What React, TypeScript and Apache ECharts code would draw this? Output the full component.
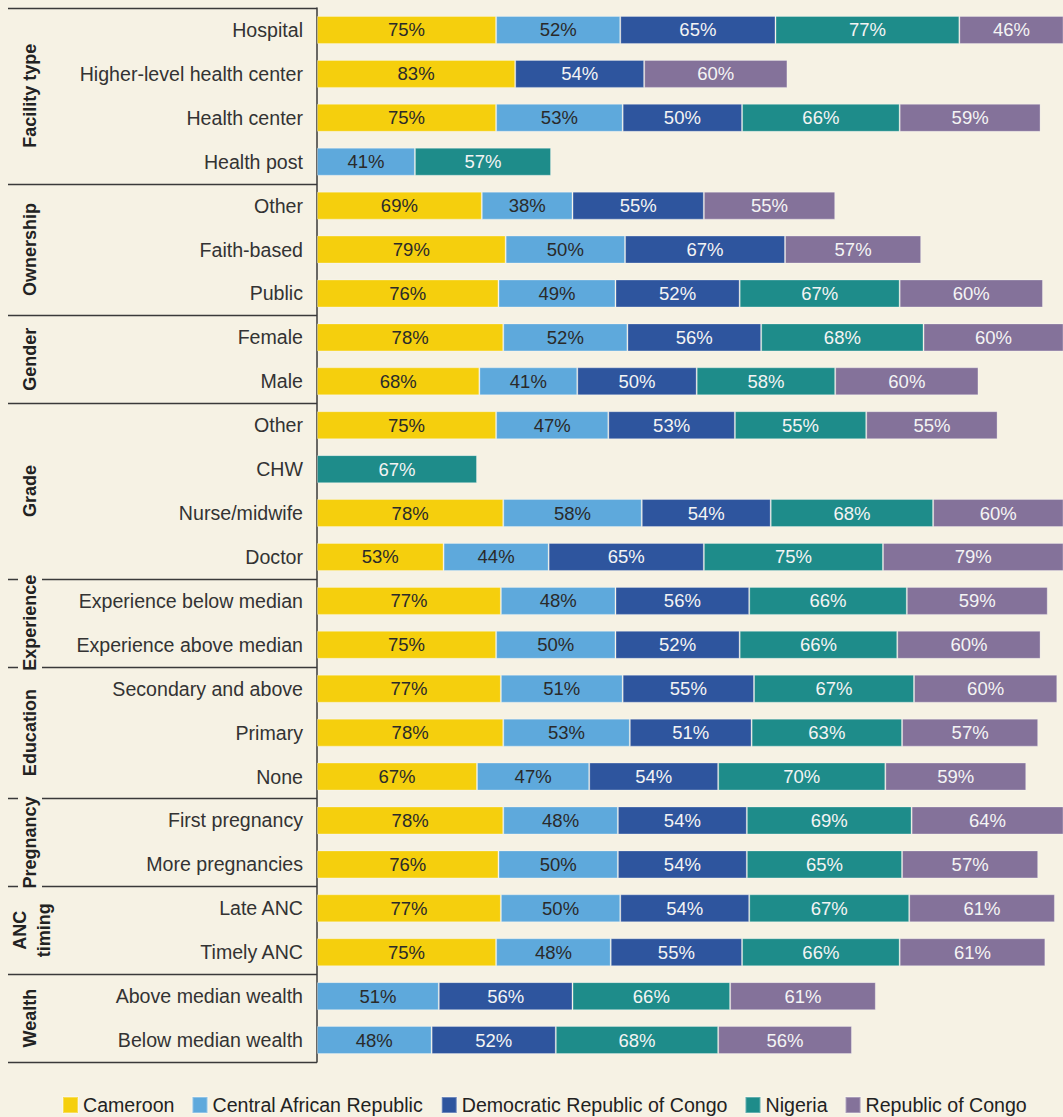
import React, { useEffect, useRef } from "react";
import * as echarts from "echarts";

const categories = [
  "Hospital",
  "Higher-level health center",
  "Health center",
  "Health post",
  "Other",
  "Faith-based",
  "Public",
  "Female",
  "Male",
  "Other",
  "CHW",
  "Nurse/midwife",
  "Doctor",
  "Experience below median",
  "Experience above median",
  "Secondary and above",
  "Primary",
  "None",
  "First pregnancy",
  "More pregnancies",
  "Late ANC",
  "Timely ANC",
  "Above median wealth",
  "Below median wealth",
];

const groupNames = ["Facility type", "Ownership", "Gender", "Grade", "Experience", "Education", "Pregnancy", "ANC\ntiming", "Wealth"];
const groupSizes = [4, 3, 2, 4, 2, 3, 2, 2, 2];

const seriesNames = ["Cameroon", "Central African Republic", "Democratic Republic of Congo", "Nigeria", "Republic of Congo"];

const cameroon = [75, 83, 75, null, 69, 79, 76, 78, 68, 75, null, 78, 53, 77, 75, 77, 78, 67, 78, 76, 77, 75, null, null];
const car = [52, null, 53, 41, 38, 50, 49, 52, 41, 47, null, 58, 44, 48, 50, 51, 53, 47, 48, 50, 50, 48, 51, 48];
const drc = [65, 54, 50, null, 55, 67, 52, 56, 50, 53, null, 54, 65, 56, 52, 55, 51, 54, 54, 54, 54, 55, 56, 52];
const nigeria = [77, null, 66, 57, null, null, 67, 68, 58, 55, 67, 68, 75, 66, 66, 67, 63, 70, 69, 65, 67, 66, 66, 68];
const roc = [46, 60, 59, null, 55, 57, 60, 60, 60, 55, null, 60, 79, 59, 60, 60, 57, 59, 64, 57, 61, 61, 61, 56];

const seriesValues = [cameroon, car, drc, nigeria, roc];
const colors = ["#f5cf0d", "#5ea9dc", "#2e559e", "#1e8c8a", "#84729a"];
const labelColors = ["#2a2a2a", "#2a2a2a", "#f4f4f4", "#f4f4f4", "#f4f4f4"];

const FONT = "'Liberation Sans', Arial, sans-serif";
const BG = "#f6f2e4";
const LINE = "#3a3a3a";

export default function App() {
  const ref = useRef<HTMLDivElement>(null);

  useEffect(() => {
    document.body.style.margin = "0";
    if (!ref.current) return;
    const chart = echarts.init(ref.current, null, { renderer: "svg" });

    const option: any = {
      animation: false,
      backgroundColor: BG,
      grid: { left: 317, right: 0, top: 8, bottom: 55, containLabel: false },
      xAxis: {
        type: "value",
        min: 0,
        max: 312.4,
        show: false,
      },
      yAxis: {
        type: "category",
        inverse: true,
        data: categories.map((c, i) => ({ value: c + "#" + i })),
        axisLine: { show: true, lineStyle: { color: LINE, width: 1.5 } },
        axisTick: { show: false },
        axisLabel: {
          formatter: (v: string) => v.split("#")[0],
          fontFamily: FONT,
          fontSize: 19.6,
          color: "#333",
          margin: 14,
        },
      },
      legend: {
        bottom: -3,
        left: 57,
        icon: "rect",
        itemWidth: 15,
        itemHeight: 16,
        itemGap: 17,
        textStyle: { fontFamily: FONT, fontSize: 19.6, color: "#222" },
        data: seriesNames,
      },
      series: seriesNames.map((name, si) => ({
        name,
        type: "bar",
        stack: "total",
        barWidth: 28,
        clip: true,
        data: seriesValues[si],
        itemStyle: { color: colors[si], borderColor: "rgba(255,255,255,0.3)", borderWidth: 1 },
        label: {
          show: true,
          position: "inside",
          formatter: (p: any) => (p.value == null ? "" : p.value + "%"),
          fontFamily: FONT,
          fontSize: 18.5,
          color: labelColors[si],
        },
      })),
    };

    chart.setOption(option);

    const xAxisPx = chart.convertToPixel({ xAxisIndex: 0 }, 0) as number;
    const y0 = chart.convertToPixel({ yAxisIndex: 0 }, categories[0] + "#0") as number;
    const y1 = chart.convertToPixel({ yAxisIndex: 0 }, categories[1] + "#1") as number;
    const band = y1 - y0;
    const topOf = (idx: number) => y0 + band * idx - band / 2;

    const graphics: any[] = [];
    let start = 0;
    const bounds: number[] = [0];
    groupSizes.forEach((s) => {
      start += s;
      bounds.push(start);
    });
    bounds.forEach((b) => {
      const y = Math.round(topOf(b)) + 0.5;
      graphics.push({
        type: "line",
        shape: { x1: 8, y1: y, x2: xAxisPx, y2: y },
        style: { stroke: LINE, lineWidth: 1.5 },
        z: 1,
      });
    });
    let acc = 0;
    groupNames.forEach((g, gi) => {
      const yc = (topOf(acc) + topOf(acc + groupSizes[gi])) / 2;
      acc += groupSizes[gi];
      const multi = g.indexOf("\n") >= 0;
      graphics.push({
        type: "text",
        x: multi ? 32 : 30,
        y: yc,
        rotation: Math.PI / 2,
        z: 10,
        style: {
          text: g,
          fontFamily: FONT,
          fontSize: 18,
          fontWeight: "bold",
          fill: "#222",
          align: "center",
          verticalAlign: "middle",
          lineHeight: 24,
          backgroundColor: BG,
          padding: [0, 2],
        },
      });
    });

    chart.setOption({ graphic: graphics });

    return () => chart.dispose();
  }, []);

  return <div ref={ref} style={{ width: 1063, height: 1117 }} />;
}
